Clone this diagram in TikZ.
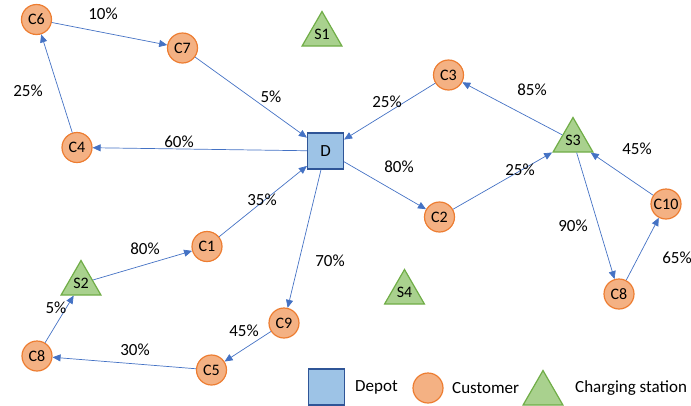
\documentclass[tikz,border=0pt]{standalone}
\usepackage{fontspec}
\setmainfont{Carlito}
\usetikzlibrary{arrows.meta,shapes.geometric}

\definecolor{custfill}{HTML}{F4B183}
\definecolor{custline}{HTML}{ED7D31}
\definecolor{stfill}{HTML}{A9D18E}
\definecolor{stline}{HTML}{70AD47}
\definecolor{depfill}{HTML}{9DC3E6}
\definecolor{depline}{HTML}{2F5597}
\definecolor{linkblue}{HTML}{4472C4}

\begin{document}
\begin{tikzpicture}[x=1pt, y=-1pt,
    customer/.style = {circle, draw = custline, fill = custfill, line width = 1.2pt,
      minimum size = 30pt, inner sep = 0pt, font = \fontsize{16}{19}\selectfont},
    station/.style = {regular polygon, regular polygon sides = 3, draw = stline,
      fill = stfill, line width = 1.2pt, minimum size = 46pt, inner sep = 0pt,
      font = \fontsize{16}{19}\selectfont},
    depot/.style = {rectangle, draw = depline, fill = depfill, line width = 1.2pt,
      minimum size = 36pt, inner sep = 0pt, font = \fontsize{17}{20}\selectfont},
    link/.style = {draw = linkblue, line width = 0.7pt,
      -{Triangle[length = 8pt, width = 7pt]}},
    pct/.style = {font = \fontsize{17}{20}\selectfont, inner sep = 0pt}]
  \useasboundingbox (0,0) rectangle (691,405);

  \node[depot] (d) at (325.5,151) {D};

  \node[customer] (c1) at (207,246.5) {C1};
  \node[customer] (c2) at (439.5,217) {C2};
  \node[customer] (c3) at (448.5,75) {C3};
  \node[customer] (c4) at (77,147.5) {C4};
  \node[customer] (c5) at (211.5,370) {C5};
  \node[customer] (c6) at (36.5,19.5) {C6};
  \node[customer] (c7) at (182.5,48) {C7};
  \node[customer] (c8a) at (37,356) {C8};
  \node[customer] (c8b) at (619,294) {C8};
  \node[customer] (c9) at (284,323) {C9};
  \node[customer] (c10) at (666,204) {C10};

  \node[station] (s1) at (322,34.5) {S1};
  \node[station] (s2) at (81,283.5) {S2};
  \node[station] (s3) at (573,140.5) {S3};
  \node[station] (s4) at (404.5,292.5) {S4};

  \draw[link] (c6) -- (c7);
  \draw[link] (c4) -- (c6);
  \draw[link] (c7) -- (d);
  \draw[link] (d) -- (c4);
  \draw[link] (c3) -- (d);
  \draw[link] (s3) -- (c3);
  \draw[link] (d) -- (c2);
  \draw[link] (c2) -- (s3);
  \draw[link] (c10) -- (s3);
  \draw[link] (s3) -- (c8b);
  \draw[link] (c8b) -- (c10);
  \draw[link] (c1) -- (d);
  \draw[link] (s2) -- (c1);
  \draw[link] (d) -- (c9);
  \draw[link] (c9) -- (c5);
  \draw[link] (c5) -- (c8a);
  \draw[link] (c8a) -- (s2);

  % percentages
  \node[pct] (l1) at (103,14) {10\%};
  \node[pct] (l2) at (28,91) {25\%};
  \node[pct] (l3) at (271,97) {5\%};
  \node[pct] (l4) at (179,142) {60\%};
  \node[pct] (l5) at (387,102) {25\%};
  \node[pct] (l6) at (532,90) {85\%};
  \node[pct] (l7) at (399,167) {80\%};
  \node[pct] (l8) at (520,170) {25\%};
  \node[pct] (l9) at (637,149) {45\%};
  \node[pct] (l10) at (262,200) {35\%};
  \node[pct] (l11) at (145,249) {80\%};
  \node[pct] (l12) at (330,261) {70\%};
  \node[pct] (l13) at (573,226) {90\%};
  \node[pct] (l14) at (677,258) {65\%};
  \node[pct] (l15) at (56,308) {5\%};
  \node[pct] (l16) at (244,331) {45\%};
  \node[pct] (l17) at (135,350) {30\%};

  % legend
  \node[depot] (kd) at (326.5,387) {};
  \node[pct, anchor = west] (kdt) at (355,387) {Depot};
  \node[customer] (kc) at (428,388) {};
  \node[pct, anchor = west] (kct) at (452,388) {Customer};
  \node[station] (ks) at (543,393.5) {};
  \node[pct, anchor = west] (kst) at (575,388) {Charging station};
\end{tikzpicture}
\end{document}
